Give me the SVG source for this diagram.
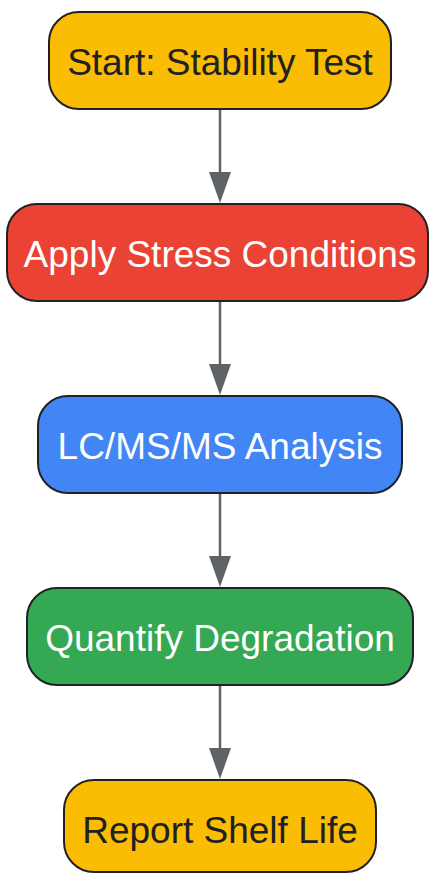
<svg xmlns="http://www.w3.org/2000/svg" width="429" height="873" viewBox="0 0 429 873">
<style>
.n{stroke:#202124;stroke-width:2}
.t{font-family:"Liberation Sans",Arial,sans-serif;font-size:37px;text-anchor:middle}
.d{fill:#202124}.w{fill:#ffffff}
.e{stroke:#5f6368;stroke-width:2.5;fill:none}
.h{fill:#5f6368}
</style>
<rect width="429" height="873" fill="#ffffff"/>
<g id="edges">
<line class="e" x1="220" y1="109" x2="220" y2="174"/>
<polygon class="h" points="209,172 231,172 220,203"/>
<line class="e" x1="220" y1="301" x2="220" y2="366"/>
<polygon class="h" points="209,364 231,364 220,395"/>
<line class="e" x1="220" y1="493" x2="220" y2="558"/>
<polygon class="h" points="209,556 231,556 220,587"/>
<line class="e" x1="220" y1="685" x2="220" y2="750"/>
<polygon class="h" points="209,748 231,748 220,779"/>
</g>
<g id="start">
<rect class="n" x="49" y="12" width="342" height="97" rx="30" fill="#fbbc04"/>
<text class="t d" x="220" y="74.5">Start: Stability Test</text>
</g>
<g id="stress">
<rect class="n" x="7" y="204" width="421" height="97" rx="30" fill="#ea4335"/>
<text class="t w" x="220" y="266.5">Apply Stress Conditions</text>
</g>
<g id="analysis">
<rect class="n" x="38" y="396" width="364" height="97" rx="30" fill="#4285f4"/>
<text class="t w" x="220" y="458.5">LC/MS/MS Analysis</text>
</g>
<g id="quantify">
<rect class="n" x="27" y="588" width="386" height="97" rx="30" fill="#34a853"/>
<text class="t w" x="220" y="650.5">Quantify Degradation</text>
</g>
<g id="report">
<rect class="n" x="64" y="780" width="312" height="92" rx="30" fill="#fbbc04"/>
<text class="t d" x="220" y="842.5">Report Shelf Life</text>
</g>
</svg>
